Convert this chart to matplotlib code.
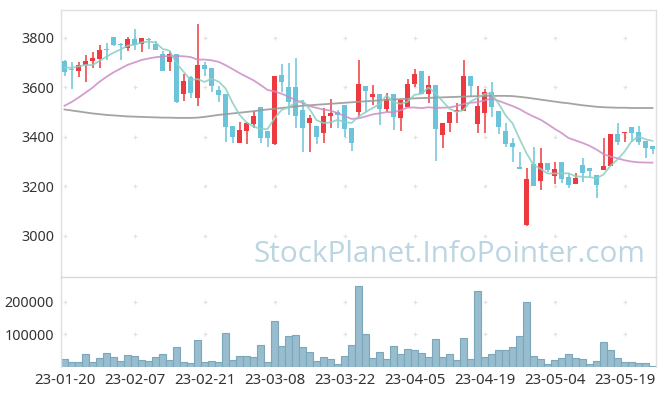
import matplotlib
matplotlib.use("Agg")
import matplotlib.pyplot as plt
import numpy as np
import pandas as pd

# ---- data ----
holidays = ["2023-01-23", "2023-01-24", "2023-03-01", "2023-05-01", "2023-05-05"]
dates = [d for d in pd.bdate_range("2023-01-20", "2023-05-25") if d.strftime("%Y-%m-%d") not in holidays]
date_labels = [d.strftime("%y-%m-%d") for d in dates]

opens = [3706, 3672, 3667, 3690, 3706, 3714, 3756, 3802, 3775, 3757,
         3795, 3776, 3795, 3773, 3733, 3703, 3733, 3571, 3642, 3558,
         3690, 3679, 3589, 3572, 3443, 3373, 3424, 3451, 3519, 3423,
         3369, 3649, 3602, 3602, 3508, 3457, 3443, 3414, 3484, 3501,
         3528, 3434, 3501, 3605, 3562, 3572, 3511, 3572, 3477, 3519,
         3612, 3665, 3571, 3609, 3407, 3457, 3501, 3505, 3645, 3451,
         3497, 3579, 3504, 3423, 3373, 3276, 3043, 3288, 3222, 3292,
         3242, 3297, 3236, 3209, 3286, 3275, 3245, 3265, 3282, 3411,
         3414, 3440, 3420, 3384, 3362]
highs = [3710, 3703, 3703, 3730, 3743, 3770, 3777, 3804, 3777, 3804,
         3835, 3797, 3797, 3786, 3745, 3745, 3735, 3652, 3646, 3854,
         3700, 3679, 3606, 3572, 3443, 3458, 3458, 3505, 3519, 3423,
         3645, 3693, 3697, 3719, 3548, 3488, 3443, 3517, 3551, 3508,
         3528, 3434, 3710, 3605, 3609, 3572, 3578, 3572, 3548, 3632,
         3672, 3665, 3646, 3609, 3454, 3499, 3535, 3710, 3645, 3606,
         3591, 3620, 3504, 3454, 3393, 3339, 3272, 3360, 3353, 3292,
         3297, 3297, 3252, 3252, 3313, 3275, 3245, 3394, 3411, 3454,
         3420, 3440, 3444, 3384, 3362]
lows = [3646, 3593, 3642, 3620, 3676, 3676, 3710, 3768, 3710, 3746,
        3750, 3741, 3754, 3750, 3667, 3667, 3538, 3544, 3558, 3525,
        3646, 3579, 3539, 3380, 3373, 3373, 3369, 3434, 3375, 3360,
        3366, 3582, 3488, 3434, 3339, 3339, 3370, 3376, 3434, 3434,
        3398, 3342, 3481, 3501, 3528, 3447, 3501, 3427, 3423, 3519,
        3600, 3572, 3535, 3302, 3353, 3418, 3454, 3505, 3562, 3414,
        3414, 3481, 3410, 3360, 3299, 3268, 3040, 3202, 3185, 3258,
        3209, 3212, 3194, 3209, 3218, 3236, 3154, 3265, 3282, 3366,
        3380, 3380, 3366, 3313, 3329]
closes = [3663, 3668, 3690, 3706, 3719, 3750, 3752, 3770, 3771, 3795,
          3770, 3797, 3791, 3750, 3667, 3733, 3541, 3624, 3578, 3690,
          3673, 3606, 3568, 3440, 3400, 3427, 3454, 3484, 3394, 3394,
          3645, 3622, 3541, 3485, 3436, 3474, 3398, 3484, 3497, 3488,
          3431, 3376, 3613, 3586, 3572, 3512, 3551, 3481, 3548, 3613,
          3653, 3572, 3609, 3431, 3454, 3499, 3508, 3645, 3606, 3525,
          3579, 3521, 3440, 3370, 3360, 3268, 3229, 3202, 3292, 3265,
          3270, 3228, 3205, 3232, 3255, 3263, 3205, 3280, 3411, 3380,
          3420, 3414, 3380, 3353, 3349]
volumes = [25800, 16500, 16500, 41000, 16500, 29000, 44000, 32000, 19600, 38000,
           35000, 22700, 19600, 32000, 41000, 22700, 60000, 16500, 13400, 81000,
           16500, 19600, 16500, 103000, 22700, 35000, 35000, 32000, 66000, 16500,
           140000, 63000, 94000, 97000, 60000, 47000, 19600, 32000, 25800, 10000,
           35000, 66000, 249000, 100000, 29000, 47000, 25800, 63000, 41000, 53600,
           50500, 44000, 32000, 84500, 32000, 41000, 22700, 87600, 25800, 233000,
           32000, 41000, 50500, 50500, 60000, 94000, 199000, 35000, 25800, 10000,
           22700, 29000, 41000, 29000, 25800, 10000, 19600, 75000, 50500, 29000,
           16500, 16500, 13400, 13400, 2000]
# moving-average values before enough closes are available
ma5_head = [3680, 3678, 3684, 3690]
ma20_head = [3525, 3540, 3558, 3578, 3598, 3622, 3642, 3660, 3675, 3690,
             3700, 3710, 3716, 3721, 3724, 3726, 3726, 3725, 3722]
ma_long = [3510, 3506, 3502, 3498, 3494, 3491, 3488, 3486, 3484, 3482,
           3481, 3480, 3479, 3478, 3477, 3477, 3476, 3476, 3476, 3477,
           3480, 3484, 3488, 3491, 3494, 3497, 3500, 3503, 3507, 3510,
           3513, 3516, 3519, 3522, 3525, 3527, 3529, 3531, 3533, 3535,
           3537, 3539, 3541, 3543, 3545, 3547, 3549, 3550, 3552, 3553,
           3555, 3556, 3557, 3558, 3559, 3560, 3561, 3562, 3563, 3564,
           3565, 3565, 3565, 3565, 3564, 3561, 3558, 3554, 3550, 3546,
           3542, 3538, 3535, 3531, 3527, 3524, 3521, 3519, 3518, 3517,
           3517, 3516, 3516, 3516, 3516]

price_ticks = [3000, 3200, 3400, 3600, 3800]
vol_ticks = [100000, 200000]

# ---- derived ----
n = len(closes)
x = np.arange(n)
o = np.array(opens, float); c = np.array(closes, float)
h = np.array(highs, float); l = np.array(lows, float)
cs = pd.Series(c)
ma5 = cs.rolling(5).mean().to_numpy(); ma5[:4] = ma5_head
ma20 = cs.rolling(20).mean().to_numpy(); ma20[:19] = ma20_head

RED = "#ec3a40"
BLUE = "#6cc4da"
up = c >= o
cols = np.where(up, RED, BLUE)

plt.rcParams['font.family'] = ['Noto Sans', 'DejaVu Sans']
fig = plt.figure(figsize=(6.65, 3.96), dpi=100)
L, R = 61 / 665, 656 / 665
ax = fig.add_axes([L, 1 - 277 / 396, R - L, (277 - 10) / 396])
axv = fig.add_axes([L, 1 - 367 / 396, R - L, (367 - 277) / 396], sharex=ax)

# candles
ax.vlines(x, l, h, colors=cols, linewidth=1.1, zorder=2)
body_h = np.maximum(np.abs(c - o), 3)
ax.bar(x, body_h, bottom=np.minimum(o, c), width=0.66, color=cols, linewidth=0, zorder=3)

# moving averages
ax.plot(x, ma_long, color="#9a9a9a", lw=1.3, alpha=0.9, zorder=4)
ax.plot(x, ma20, color="#cc8cc6", lw=1.3, alpha=0.85, zorder=4)
ax.plot(x, ma5, color="#8ccfc3", lw=1.3, alpha=0.85, zorder=4)

ax.set_ylim(2833, 3912)
ax.set_xlim(-0.5, n - 0.5)
ax.set_yticks(price_ticks)

# volume
axv.bar(x, volumes, width=1.0, color="#97bdce", edgecolor="#7ca7bb", linewidth=0.8, zorder=2)
axv.set_ylim(0, 275000)
axv.set_yticks(vol_ticks)

xt = x[::10]
axv.set_xticks(xt)
axv.set_xticklabels([date_labels[i] for i in xt])

grid_col = "#e2e2e2"
for a, yt in ((ax, price_ticks), (axv, vol_ticks)):
    gx, gy = np.meshgrid(xt, yt)
    a.plot(gx.ravel(), gy.ravel(), ls="none", marker="+", ms=3.5, mew=0.8, color=grid_col, zorder=1)
    for s in a.spines.values():
        s.set_color("#e0e0e0")
        s.set_linewidth(1.0)
    a.tick_params(length=0, labelsize=10.3, colors="#333333", pad=5)
axv.spines['bottom'].set_visible(False)
axv.spines['top'].set_color("#d8d8d8")
ax.spines['bottom'].set_visible(False)
ax.tick_params(axis='x', labelbottom=False)
axv.tick_params(axis='x', labelsize=10.8, pad=4)

fig.text(645 / 665, 1 - 255 / 396, "StockPlanet.InfoPointer.com", ha="right", va="center",
         fontsize=21.4, color="#bcd5e2", family=["Open Sans", "DejaVu Sans"], zorder=0)

fig.savefig("out.png", dpi=100)
